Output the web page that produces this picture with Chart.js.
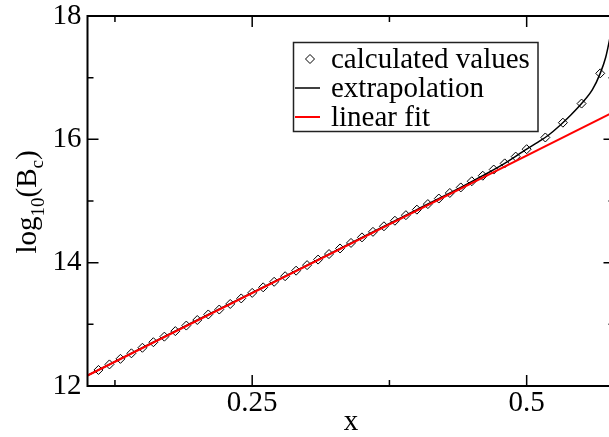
<!DOCTYPE html>
<html>
<head>
<meta charset="utf-8">
<script src="https://cdn.jsdelivr.net/npm/chart.js@4.4.1/dist/chart.umd.min.js"></script>
<style>
html, body { margin: 0; padding: 0; background: #fff; overflow: hidden; }
#wrap { width: 620px; height: 437px; }
</style>
</head>
<body>
<div id="wrap"><canvas id="c"></canvas></div>
<script>
// calculated values (diamonds)
var calcX = [0.11, 0.12, 0.13, 0.14, 0.15, 0.16, 0.17, 0.18, 0.19, 0.20,
             0.21, 0.22, 0.23, 0.24, 0.25, 0.26, 0.27, 0.28, 0.29, 0.30,
             0.31, 0.32, 0.33, 0.34, 0.35, 0.36, 0.37, 0.38, 0.39, 0.40,
             0.41, 0.42, 0.43, 0.44, 0.45, 0.46, 0.47, 0.48, 0.49, 0.50,
             0.517, 0.533, 0.55, 0.567];
var calcY = [12.26, 12.35, 12.44, 12.53, 12.62, 12.71, 12.80, 12.89, 12.98, 13.07,
             13.16, 13.24, 13.33, 13.42, 13.51, 13.60, 13.69, 13.78, 13.87, 13.96,
             14.05, 14.14, 14.23, 14.32, 14.41, 14.50, 14.59, 14.68, 14.77, 14.86,
             14.95, 15.04, 15.13, 15.22, 15.32, 15.41, 15.51, 15.61, 15.72, 15.84,
             16.03, 16.27, 16.58, 17.07];
// extrapolation curve
var extrapX = [0.10, 0.20, 0.30, 0.40, 0.44, 0.46, 0.48, 0.50, 0.51, 0.52,
               0.53, 0.54, 0.55, 0.56, 0.567, 0.572, 0.576, 0.58];
var extrapY = [12.17, 13.07, 13.96, 14.86, 15.22, 15.41, 15.61, 15.84, 15.95, 16.07,
               16.22, 16.39, 16.58, 16.81, 17.07, 17.33, 17.66, 18.05];
// linear fit
var fitX = [0.10, 0.58];
var fitY = [12.17, 16.45];

var xTicks = [0.25, 0.5];
var xMinor = [0.125, 0.375];
var yTicks = [12, 14, 16, 18];
var yMinor = [13, 15, 17];
var seriesNames = ["calculated values", "extrapolation", "linear fit"];

var SERIF = "'Liberation Serif', 'Times New Roman', serif";

function pts(xs, ys) {
    return xs.map(function (x, i) { return { x: x, y: ys[i] }; });
}

var framePlugin = {
    id: 'frame',
    afterDatasetsDraw: function (chart) {
        var ctx = chart.ctx, a = chart.chartArea;
        var sx = chart.scales.x, sy = chart.scales.y;
        ctx.save();
        ctx.strokeStyle = '#000';
        ctx.lineWidth = 1.5;
        ctx.beginPath();
        function xt(v, len) {
            var p = sx.getPixelForValue(v);
            ctx.moveTo(p, a.bottom); ctx.lineTo(p, a.bottom - len);
            ctx.moveTo(p, a.top); ctx.lineTo(p, a.top + len);
        }
        function yt(v, len) {
            var p = sy.getPixelForValue(v);
            ctx.moveTo(a.left, p); ctx.lineTo(a.left + len, p);
            ctx.moveTo(a.right, p); ctx.lineTo(a.right - len, p);
        }
        xTicks.forEach(function (v) { xt(v, 11); });
        xMinor.forEach(function (v) { xt(v, 6); });
        yTicks.forEach(function (v) { yt(v, 11); });
        yMinor.forEach(function (v) { yt(v, 6); });
        ctx.stroke();
        ctx.lineWidth = 2;
        ctx.strokeRect(a.left, a.top, a.right - a.left, a.bottom - a.top);
        ctx.restore();
    }
};

var legendPlugin = {
    id: 'boxLegend',
    afterDraw: function (chart) {
        var ctx = chart.ctx;
        var bx = 293.5, by = 42.5, bw = 244.5, bh = 89;
        ctx.save();
        ctx.fillStyle = '#fff';
        ctx.fillRect(bx, by, bw, bh);
        ctx.strokeStyle = '#222';
        ctx.lineWidth = 1.5;
        ctx.strokeRect(bx, by, bw, bh);
        var rows = [59, 88, 117];
        var ds = chart.data.datasets;
        // diamond
        ctx.lineWidth = 1;
        ctx.strokeStyle = '#000';
        ctx.beginPath();
        ctx.moveTo(305.5, rows[0]); ctx.lineTo(310, rows[0] - 4.5);
        ctx.lineTo(314.5, rows[0]); ctx.lineTo(310, rows[0] + 4.5);
        ctx.closePath();
        ctx.stroke();
        // line samples
        ctx.lineWidth = ds[1].borderWidth;
        ctx.strokeStyle = ds[1].borderColor;
        ctx.beginPath(); ctx.moveTo(295, rows[1]); ctx.lineTo(320, rows[1]); ctx.stroke();
        ctx.lineWidth = ds[2].borderWidth;
        ctx.strokeStyle = ds[2].borderColor;
        ctx.beginPath(); ctx.moveTo(295, rows[2]); ctx.lineTo(320, rows[2]); ctx.stroke();
        ctx.fillStyle = '#000';
        ctx.font = '29px ' + SERIF;
        ctx.textBaseline = 'alphabetic';
        ctx.textAlign = 'left';
        ds.forEach(function (d, i) { ctx.fillText(d.label, 331, rows[i] + 9); });
        ctx.restore();
    }
};

var yTitlePlugin = {
    id: 'yTitle',
    afterDraw: function (chart) {
        var ctx = chart.ctx;
        var big = '29px ' + SERIF, small = '19px ' + SERIF;
        var parts = [
            ['log', big, 0], ['10', small, 8], ['(B', big, 0], ['c', small, 7], [')', big, 0]
        ];
        var total = 0;
        parts.forEach(function (p) { ctx.font = p[1]; total += ctx.measureText(p[0]).width; });
        ctx.save();
        ctx.translate(36, 202 + total / 2);
        ctx.rotate(-Math.PI / 2);
        ctx.fillStyle = '#000';
        ctx.textBaseline = 'alphabetic';
        ctx.textAlign = 'left';
        var x = 0;
        parts.forEach(function (p) {
            ctx.font = p[1];
            ctx.fillText(p[0], x, p[2]);
            x += ctx.measureText(p[0]).width;
        });
        ctx.restore();
    }
};

function noPad(s) {
    s.paddingTop = 0; s.paddingBottom = 0; s.paddingLeft = 0; s.paddingRight = 0;
}

new Chart(document.getElementById('c'), {
    type: 'scatter',
    data: {
        datasets: [{
            label: seriesNames[0],
            data: pts(calcX, calcY),
            showLine: false,
            pointStyle: 'rectRot',
            pointRadius: 4.5,
            borderColor: '#000',
            borderWidth: 1,
            backgroundColor: 'rgba(0,0,0,0)',
            order: 2
        }, {
            label: seriesNames[1],
            data: pts(extrapX, extrapY),
            showLine: true,
            pointRadius: 0,
            borderColor: '#000',
            borderWidth: 1.5,
            cubicInterpolationMode: 'monotone',
            clip: 0,
            order: 1
        }, {
            label: seriesNames[2],
            data: pts(fitX, fitY),
            showLine: true,
            pointRadius: 0,
            borderColor: '#ff0000',
            borderWidth: 2,
            clip: 0,
            order: 0
        }]
    },
    options: {
        responsive: true,
        maintainAspectRatio: false,
        animation: false,
        events: [],
        layout: { padding: { top: 16, right: 4.5, left: 0, bottom: 0 } },
        plugins: { legend: { display: false }, tooltip: { enabled: false } },
        scales: {
            x: {
                type: 'linear',
                min: 0.1,
                max: 0.58,
                grid: { display: false, drawTicks: false },
                border: { display: false },
                afterBuildTicks: function (s) { s.ticks = xTicks.map(function (v) { return { value: v }; }); },
                afterFit: function (s) { s.height = 51; noPad(s); },
                ticks: {
                    autoSkip: false, maxRotation: 0, padding: 0, color: '#000',
                    font: { family: SERIF, size: 29 },
                    callback: function (v) { return String(v); }
                },
                title: {
                    display: true, text: 'x', color: '#000', padding: 0,
                    font: { family: SERIF, size: 29, lineHeight: 1.0 }
                }
            },
            y: {
                min: 12,
                max: 18,
                grid: { display: false, drawTicks: false },
                border: { display: false },
                afterBuildTicks: function (s) { s.ticks = yTicks.map(function (v) { return { value: v }; }); },
                afterFit: function (s) { s.width = 87.5; noPad(s); },
                ticks: {
                    autoSkip: false, padding: 6, color: '#000',
                    font: { family: SERIF, size: 29 }
                }
            }
        }
    },
    plugins: [framePlugin, legendPlugin, yTitlePlugin]
});
</script>
</body>
</html>
